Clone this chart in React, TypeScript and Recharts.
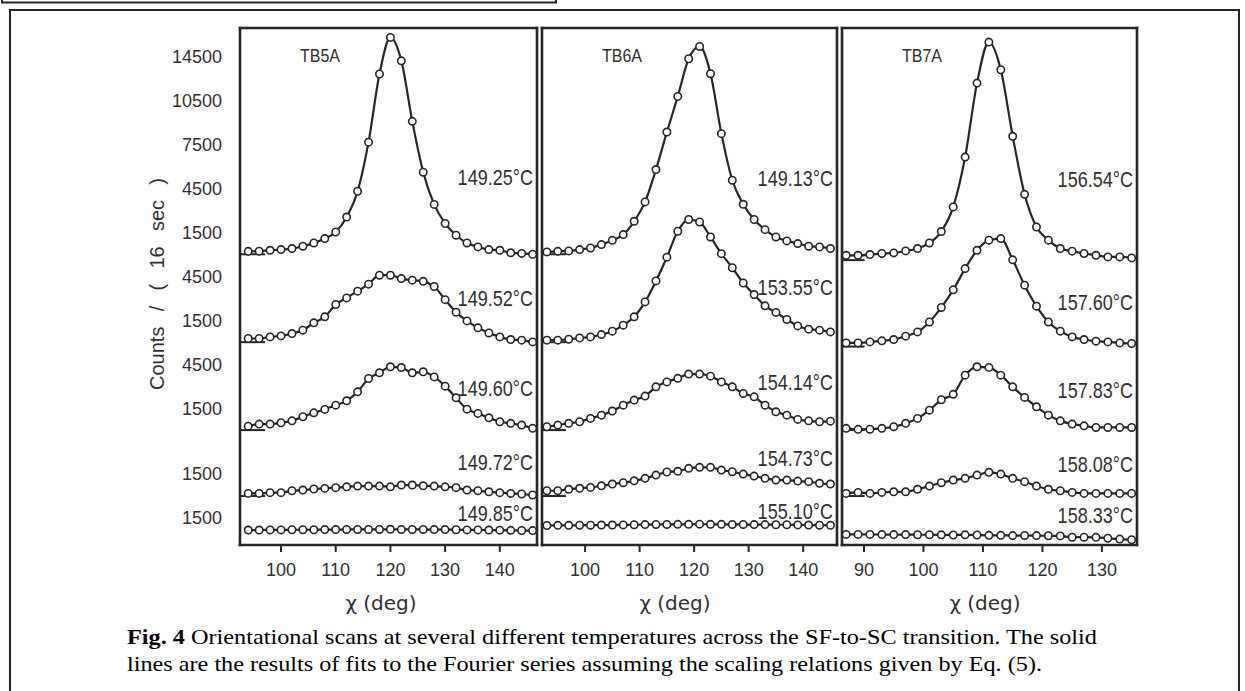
import { ComposedChart, Line, ReferenceLine, XAxis, YAxis } from "recharts";

const INK = "#262626";
const TEXT = "#303030";
const SANS = '"Liberation Sans", Arial, Helvetica, sans-serif';
const SERIF = '"Times New Roman", "Liberation Serif", Times, serif';

// scan angles chi (deg) for each sample
const chiTB5A = [94, 96, 98, 100, 102, 104, 106, 108, 110, 112, 114, 116, 118, 120, 122, 124, 126, 128, 130, 132, 134, 136, 138, 140, 142, 144, 146];
const chiTB6A = [93, 95, 97, 99, 101, 103, 105, 107, 109, 111, 113, 115, 117, 119, 121, 123, 125, 127, 129, 131, 133, 135, 137, 139, 141, 143, 145];
const chiTB7A = [87, 89, 91, 93, 95, 97, 99, 101, 103, 105, 107, 109, 111, 113, 115, 117, 119, 121, 123, 125, 127, 129, 131, 133, 135];

// counts / 16 s, one list per temperature
const tb5a_149_25 = [200, 210, 270, 320, 390, 550, 770, 1070, 1520, 2540, 4300, 7650, 12300, 14800, 13200, 9070, 5600, 3400, 2100, 1300, 770, 500, 320, 270, 100, 60, 0];
const tb5a_149_52 = [250, 250, 360, 430, 590, 820, 1320, 1730, 2570, 3020, 3480, 3960, 4570, 4570, 4340, 4230, 4150, 3800, 2900, 2050, 1450, 980, 630, 360, 180, 140, 20];
const tb5a_149_60 = [270, 410, 410, 500, 630, 910, 1180, 1410, 1700, 2000, 2610, 3520, 3910, 4320, 4270, 3910, 3980, 3630, 3000, 2200, 1430, 1140, 840, 570, 460, 340, 120];
const tb5a_149_72 = [180, 180, 230, 230, 360, 410, 480, 520, 570, 630, 680, 680, 680, 630, 750, 750, 700, 680, 630, 570, 410, 360, 290, 230, 180, 140, 70];
const tb5a_149_85 = [680, 680, 690, 690, 700, 700, 700, 710, 710, 720, 720, 720, 720, 730, 720, 720, 720, 710, 710, 700, 690, 690, 680, 670, 660, 650, 640];

const tb6a_149_13 = [160, 200, 230, 320, 430, 660, 950, 1340, 2250, 3570, 5780, 8340, 10770, 13340, 14180, 12320, 8230, 5050, 3410, 2370, 1680, 1180, 910, 730, 550, 500, 390];
const tb6a_153_55 = [140, 140, 200, 290, 360, 520, 750, 1160, 1730, 2750, 4180, 5800, 7570, 8370, 8200, 7180, 6040, 5080, 4040, 3250, 2480, 2030, 1550, 1110, 890, 820, 700];
const tb6a_154_14 = [230, 340, 460, 570, 800, 1020, 1300, 1700, 2050, 2320, 2950, 3290, 3530, 3820, 3820, 3680, 3290, 2950, 2500, 2270, 1700, 1250, 1020, 730, 630, 570, 610];
const tb6a_154_73 = [360, 360, 460, 530, 590, 700, 820, 910, 1040, 1210, 1430, 1640, 1690, 1890, 1960, 1960, 1770, 1660, 1500, 1360, 1210, 1090, 1090, 1020, 980, 870, 820];
const tb6a_155_10 = [990, 1000, 1000, 1010, 1010, 1020, 1020, 1030, 1040, 1050, 1060, 1060, 1070, 1070, 1080, 1070, 1070, 1060, 1060, 1050, 1050, 1040, 1040, 1030, 1020, 1010, 1000];

const tb7a_156_54 = [330, 330, 380, 450, 490, 630, 790, 1170, 1950, 3630, 7030, 12080, 14880, 12990, 8450, 4490, 2260, 1360, 790, 610, 450, 330, 220, 220, 150];
const tb7a_157_60 = [250, 250, 320, 390, 480, 710, 1000, 1680, 2670, 3870, 5320, 6570, 7260, 7370, 5920, 4190, 2760, 1680, 1050, 660, 480, 370, 320, 250, 210];
const tb7a_157_83 = [120, 50, 60, 120, 230, 460, 800, 1360, 2070, 2440, 3750, 4320, 4280, 3750, 2950, 2230, 1590, 1020, 630, 410, 290, 180, 180, 180, 180];
const tb7a_158_08 = [180, 250, 180, 250, 290, 290, 460, 680, 910, 1090, 1210, 1430, 1620, 1500, 1210, 980, 680, 460, 360, 250, 180, 180, 180, 180, 180];
const tb7a_158_33 = [380, 380, 380, 370, 370, 370, 360, 360, 350, 340, 350, 340, 320, 320, 300, 310, 300, 290, 280, 190, 190, 180, 120, 60, 20];

const tempsTB5A = ["149.25°C", "149.52°C", "149.60°C", "149.72°C", "149.85°C"];
const tempsTB6A = ["149.13°C", "153.55°C", "154.14°C", "154.73°C", "155.10°C"];
const tempsTB7A = ["156.54°C", "157.60°C", "157.83°C", "158.08°C", "158.33°C"];

// vertical shift of each curve in the stack (counts)
const stackTB5A = [19500, 13500, 7500, 3000, 0];
const stackTB6A = [19500, 13500, 7500, 3000, 0];
const stackTB7A = [19100, 13200, 7500, 3000, 0];

// count axis: printed labels and where they sit in the stack
const countTickValues = [1500, 4500, 9000, 12000, 15000, 18000, 21000, 24000, 27000, 30000, 33000];
const countTickLabels = ["1500", "1500", "1500", "4500", "1500", "4500", "1500", "4500", "7500", "10500", "14500"];
const gridTicks = [0, 1500, 3000, 4500, 6000, 7500, 9000, 10500, 12000, 13500, 15000, 16500, 18000, 19500, 21000, 22500, 24000, 25500, 27000, 28500, 30000, 31500, 33000];

const chiTicksTB5A = [100, 110, 120, 130, 140];
const chiTicksTB6A = [100, 110, 120, 130, 140];
const chiTicksTB7A = [90, 100, 110, 120, 130];

// layout (px)
const PLOT_TOP = 28;
const PLOT_BOTTOM = 545;
const COUNT_DOMAIN: [number, number] = [-341, 34940];

interface PanelSpec {
  name: string;
  chi: number[];
  curves: number[][];
  temps: string[];
  stack: number[];
  chiTicks: number[];
  chiDomain: [number, number];
  left: number;
  right: number;
  tempY: number[];
  stubDeg: number;
  titleX: number;
}

const panels: PanelSpec[] = [
  {
    name: "TB5A",
    chi: chiTB5A,
    curves: [tb5a_149_25, tb5a_149_52, tb5a_149_60, tb5a_149_72, tb5a_149_85],
    temps: tempsTB5A,
    stack: stackTB5A,
    chiTicks: chiTicksTB5A,
    chiDomain: [92.5, 146.8],
    left: 240,
    right: 537,
    tempY: [177, 298, 388, 462, 513],
    stubDeg: 4.6,
    titleX: 381,
  },
  {
    name: "TB6A",
    chi: chiTB6A,
    curves: [tb6a_149_13, tb6a_153_55, tb6a_154_14, tb6a_154_73, tb6a_155_10],
    temps: tempsTB6A,
    stack: stackTB6A,
    chiTicks: chiTicksTB6A,
    chiDomain: [92.1, 146.2],
    left: 542,
    right: 837,
    tempY: [178, 287, 382, 458, 511],
    stubDeg: 4.4,
    titleX: 675,
  },
  {
    name: "TB7A",
    chi: chiTB7A,
    curves: [tb7a_156_54, tb7a_157_60, tb7a_157_83, tb7a_158_08, tb7a_158_33],
    temps: tempsTB7A,
    stack: stackTB7A,
    chiTicks: chiTicksTB7A,
    chiDomain: [86.3, 135.9],
    left: 842,
    right: 1137,
    tempY: [179, 302, 390, 464, 515],
    stubDeg: 3.8,
    titleX: 985,
  },
];

const countLabel = (v: number) => {
  const i = countTickValues.indexOf(v);
  return i >= 0 ? countTickLabels[i] : "";
};

const Panel = ({ p, withLabels }: { p: PanelSpec; withLabels: boolean }) => {
  const labelW = withLabels ? 90 : 0;
  const margin = { top: 6, right: 6, bottom: 2, left: withLabels ? 0 : 6 };
  const xAxisH = 44;
  const width = p.right - p.left + labelW + margin.left + margin.right;
  const height = PLOT_BOTTOM - PLOT_TOP + margin.top + margin.bottom + xAxisH;
  const frame = { strokeWidth: 2.6, strokeLinecap: "square" as const };

  return (
    <div
      style={{
        position: "absolute",
        left: p.left - labelW - margin.left,
        top: PLOT_TOP - margin.top,
      }}
    >
      <ComposedChart width={width} height={height} margin={margin}>
        <XAxis
          xAxisId="b"
          type="number"
          dataKey="chi"
          domain={p.chiDomain}
          ticks={p.chiTicks}
          interval={0}
          height={xAxisH}
          stroke={INK}
          axisLine={frame}
          tickLine={{ strokeWidth: 2 }}
          tickSize={7}
          tickMargin={11}
          tick={{ fill: TEXT, fontSize: 18, fontFamily: SANS }}
        />
        <XAxis
          xAxisId="t"
          orientation="top"
          mirror
          type="number"
          domain={p.chiDomain}
          allowDataOverflow
          stroke={INK}
          axisLine={frame}
          tick={false}
          tickLine={false}
        />
        {withLabels && (
          <YAxis
            yAxisId="lbl"
            type="number"
            domain={COUNT_DOMAIN}
            allowDataOverflow
            width={labelW}
            ticks={countTickValues}
            interval={0}
            tickFormatter={countLabel}
            axisLine={false}
            tickLine={false}
            tickSize={6}
            tickMargin={12}
            tick={{ fill: TEXT, fontSize: 18, fontFamily: SANS }}
          />
        )}
        <YAxis
          yAxisId="m"
          mirror
          type="number"
          domain={COUNT_DOMAIN}
          ticks={gridTicks}
          interval={0}
          tick={false}
          tickSize={10}
          stroke={INK}
          axisLine={frame}
          tickLine={{ strokeWidth: 2 }}
        />
        <YAxis
          yAxisId="r"
          orientation="right"
          mirror
          type="number"
          domain={COUNT_DOMAIN}
          allowDataOverflow
          stroke={INK}
          axisLine={frame}
          tick={false}
          tickLine={false}
        />
        {p.stack.slice(0, 4).map((off, i) => (
          <ReferenceLine
            key={`stub-${i}`}
            xAxisId="b"
            yAxisId="m"
            segment={[
              { x: p.chiDomain[0], y: off },
              { x: p.chiDomain[0] + p.stubDeg, y: off },
            ]}
            stroke={INK}
            strokeWidth={2}
          />
        ))}
        {p.curves.map((counts, i) => (
          <Line
            key={p.temps[i]}
            data={p.chi.map((chi, j) => ({ chi, y: counts[j] + p.stack[i] }))}
            dataKey="y"
            xAxisId="b"
            yAxisId="m"
            type="monotone"
            stroke={INK}
            strokeWidth={2.2}
            dot={{ r: 3.7, fill: "#fff", stroke: INK, strokeWidth: 1.6 }}
            activeDot={false}
            isAnimationActive={false}
          />
        ))}
      </ComposedChart>
    </div>
  );
};

const App = () => {
  return (
    <div
      style={{
        position: "absolute",
        left: 0,
        top: 0,
        width: 1245,
        height: 691,
        background: "#fff",
        overflow: "hidden",
      }}
    >
      {panels.map((p, i) => (
        <Panel key={p.name} p={p} withLabels={i === 0} />
      ))}
      <svg
        width={1245}
        height={691}
        style={{ position: "absolute", left: 0, top: 0, pointerEvents: "none" }}
      >
        <rect x={2} y={-10} width={554} height={12.5} fill="none" stroke={INK} strokeWidth={2} />
        <rect x={10} y={10} width={1229} height={700} fill="none" stroke={INK} strokeWidth={2} />

        {panels.map((p) => (
          <g key={p.name} fill={TEXT} fontFamily={SANS}>
            <text transform={`translate(${p.left + 60} 62) scale(0.89 1)`} fontSize={18}>
              {p.name}
            </text>
            {p.temps.map((t, i) => (
              <text
                key={t}
                transform={`translate(${p.right - 4} ${p.tempY[i] + 7.9}) scale(0.82 1)`}
                textAnchor="end"
                fontSize={22}
              >
                {t}
              </text>
            ))}
            <text
              x={p.titleX}
              y={610}
              textAnchor="middle"
              fontSize={20}
              fontFamily='"DejaVu Sans", sans-serif'
            >
              χ (deg)
            </text>
          </g>
        ))}

        <text
          transform="translate(164 284) rotate(-90)"
          textAnchor="middle"
          fontSize={20}
          fontFamily={SANS}
          fill={TEXT}
          wordSpacing={9.7}
        >
          Counts / ( 16 sec )
        </text>

        <g fontFamily={SERIF} fontSize={22} fill="#000">
          <text x={127} y={644} textLength={970} lengthAdjust="spacingAndGlyphs">
            <tspan fontWeight="bold">Fig. 4</tspan>
            <tspan>
              {" "}Orientational scans at several different temperatures across the SF-to-SC transition. The solid
            </tspan>
          </text>
          <text x={127} y={671} textLength={915} lengthAdjust="spacingAndGlyphs">
            lines are the results of fits to the Fourier series assuming the scaling relations given by Eq. (5).
          </text>
        </g>
      </svg>
    </div>
  );
};

export default App;
